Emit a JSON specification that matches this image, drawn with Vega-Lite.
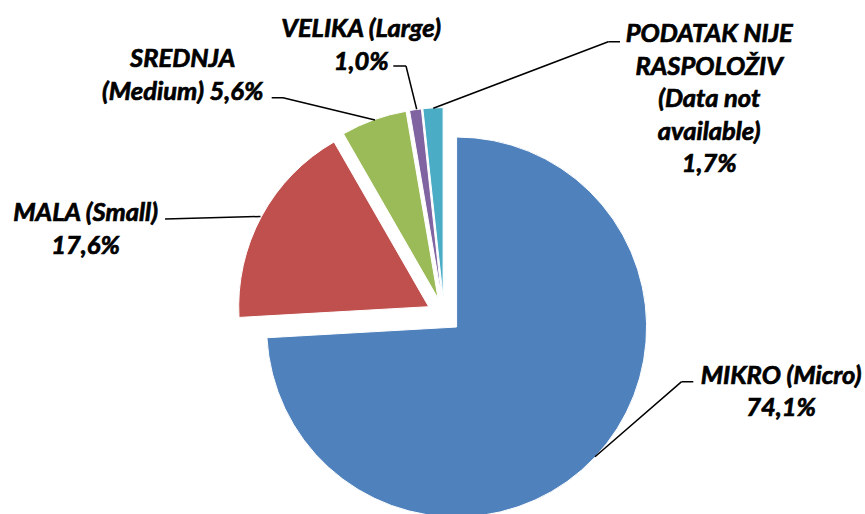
{
  "$schema": "https://vega.github.io/schema/vega-lite/v6.json",
  "width": 842,
  "height": 398,
  "autosize": "none",
  "padding": {"left": 23, "top": 116, "right": 0, "bottom": 0},
  "background": "white",
  "config": {"view": {"stroke": null}, "text": {"font": "Lato", "fontSize": 25.5, "fontStyle": "italic", "fontWeight": "bold", "lineHeight": 32.5, "lineBreak": "\n", "align": "center", "baseline": "middle", "color": "black", "stroke": "black", "strokeWidth": 0.7}},
  "data": {
    "values": [
      {"category": "MIKRO", "value": 74.1, "label": "MIKRO (Micro)\n74,1%"},
      {"category": "MALA", "value": 17.6, "label": "MALA (Small)\n17,6%"},
      {"category": "SREDNJA", "value": 5.6, "label": "SREDNJA\n(Medium) 5,6%"},
      {"category": "VELIKA", "value": 1.0, "label": "VELIKA (Large)\n1,0%"},
      {"category": "PODATAK", "value": 1.7, "label": "PODATAK NIJE\nRASPOLOŽIV\n(Data not\navailable)\n1,7%"}
    ]
  },
  "transform": [{"stack": "value", "groupby": [], "as": ["v0", "v1"]}],
  "encoding": {
    "theta": {"field": "v0", "type": "quantitative", "scale": {"domain": [0, 100]}, "stack": null}
  },
  "layer": [
    {
      "transform": [{"filter": "datum.category === 'MIKRO'"}],
      "mark": {"type": "arc", "radius": 190, "xOffset": 12.6, "yOffset": 12.0, "stroke": "white", "strokeWidth": 1},
      "encoding": {"theta2": {"field": "v1"}, "color": {"field": "category", "type": "nominal", "scale": {"domain": ["MIKRO", "MALA", "SREDNJA", "VELIKA", "PODATAK"], "range": ["#4F81BD", "#C0504D", "#9BBB59", "#8064A2", "#4BACC6"]}, "legend": null}}
    },
    {
      "transform": [{"filter": "datum.category === 'MALA'"}],
      "mark": {"type": "arc", "radius": 190, "xOffset": -15.3, "yOffset": -8.3, "stroke": "white", "strokeWidth": 1},
      "encoding": {"theta2": {"field": "v1"}, "color": {"field": "category", "type": "nominal", "legend": null}}
    },
    {
      "transform": [{"filter": "datum.category === 'SREDNJA'"}],
      "mark": {"type": "arc", "radius": 190, "xOffset": -5.9, "yOffset": -16.4, "stroke": "white", "strokeWidth": 1},
      "encoding": {"theta2": {"field": "v1"}, "color": {"field": "category", "type": "nominal", "legend": null}}
    },
    {
      "transform": [{"filter": "datum.category === 'VELIKA'"}],
      "mark": {"type": "arc", "radius": 190, "xOffset": -2.4, "yOffset": -17.2, "stroke": "white", "strokeWidth": 1},
      "encoding": {"theta2": {"field": "v1"}, "color": {"field": "category", "type": "nominal", "legend": null}}
    },
    {
      "transform": [{"filter": "datum.category === 'PODATAK'"}],
      "mark": {"type": "arc", "radius": 190, "xOffset": -0.9, "yOffset": -17.4, "stroke": "white", "strokeWidth": 1},
      "encoding": {"theta2": {"field": "v1"}, "color": {"field": "category", "type": "nominal", "legend": null}}
    },
    {
      "transform": [{"filter": "datum.category === 'MIKRO'"}],
      "mark": {"type": "arc", "radius": 114.6, "radius2": 0, "xOffset": 151, "yOffset": 141.7, "thetaOffset": 0.857, "theta2Offset": 0.857, "fillOpacity": 0, "stroke": "black", "strokeWidth": 1.5},
      "encoding": {"theta2": {"field": "v0"}}
    },
    {
      "transform": [{"filter": "datum.category === 'MIKRO'"}],
      "mark": {"type": "arc", "radius": 11.6, "radius2": 0, "xOffset": 237.7, "yOffset": 66.7, "thetaOffset": 1.5708, "theta2Offset": 1.5708, "fillOpacity": 0, "stroke": "black", "strokeWidth": 1.5},
      "encoding": {"theta2": {"field": "v0"}}
    },
    {
      "transform": [{"filter": "datum.category === 'MALA'"}],
      "mark": {"type": "arc", "radius": 95.5, "radius2": 0, "xOffset": -183.5, "yOffset": -98.5, "thetaOffset": 0.0302, "theta2Offset": 0.0302, "fillOpacity": 0, "stroke": "black", "strokeWidth": 1.5},
      "encoding": {"theta2": {"field": "v0"}}
    },
    {
      "transform": [{"filter": "datum.category === 'SREDNJA'"}],
      "mark": {"type": "arc", "radius": 94.7, "radius2": 0, "xOffset": -69, "yOffset": -195, "thetaOffset": -0.8115, "theta2Offset": -0.8115, "fillOpacity": 0, "stroke": "black", "strokeWidth": 1.5},
      "encoding": {"theta2": {"field": "v0"}}
    },
    {
      "transform": [{"filter": "datum.category === 'SREDNJA'"}],
      "mark": {"type": "arc", "radius": 11.3, "radius2": 0, "xOffset": -161, "yOffset": -217.3, "thetaOffset": -1.0493, "theta2Offset": -1.0493, "fillOpacity": 0, "stroke": "black", "strokeWidth": 1.5},
      "encoding": {"theta2": {"field": "v0"}}
    },
    {
      "transform": [{"filter": "datum.category === 'VELIKA'"}],
      "mark": {"type": "arc", "radius": 44.6, "radius2": 0, "xOffset": -27.3, "yOffset": -205.7, "thetaOffset": -0.0725, "theta2Offset": -0.0725, "fillOpacity": 0, "stroke": "black", "strokeWidth": 1.5},
      "encoding": {"theta2": {"field": "v0"}}
    },
    {
      "transform": [{"filter": "datum.category === 'VELIKA'"}],
      "mark": {"type": "arc", "radius": 12.7, "radius2": 0, "xOffset": -38, "yOffset": -249, "thetaOffset": -1.4011, "theta2Offset": -1.4011, "fillOpacity": 0, "stroke": "black", "strokeWidth": 1.5},
      "encoding": {"theta2": {"field": "v0"}}
    },
    {
      "transform": [{"filter": "datum.category === 'PODATAK'"}],
      "mark": {"type": "arc", "radius": 187.2, "radius2": 0, "xOffset": -10.7, "yOffset": -206.7, "thetaOffset": 1.314, "theta2Offset": 1.314, "fillOpacity": 0, "stroke": "black", "strokeWidth": 1.5},
      "encoding": {"theta2": {"field": "v0"}}
    },
    {
      "transform": [{"filter": "datum.category === 'PODATAK'"}],
      "mark": {"type": "arc", "radius": 11.7, "radius2": 0, "xOffset": 164.3, "yOffset": -273.3, "thetaOffset": -4.6055, "theta2Offset": -4.6055, "fillOpacity": 0, "stroke": "black", "strokeWidth": 1.5},
      "encoding": {"theta2": {"field": "v0"}}
    },
    {
      "transform": [{"filter": "datum.category === 'MIKRO'"}],
      "mark": {"type": "text", "radius": 342.5, "thetaOffset": 1.7496},
      "encoding": {"text": {"field": "label"}}
    },
    {
      "transform": [{"filter": "datum.category === 'MALA'"}],
      "mark": {"type": "text", "radius": 372.6, "thetaOffset": 0.3331},
      "encoding": {"text": {"field": "label"}}
    },
    {
      "transform": [{"filter": "datum.category === 'SREDNJA'"}],
      "mark": {"type": "text", "radius": 365.6, "thetaOffset": -0.2748},
      "encoding": {"text": {"field": "label"}}
    },
    {
      "transform": [{"filter": "datum.category === 'VELIKA'"}],
      "mark": {"type": "text", "radius": 297.3, "thetaOffset": -0.1126},
      "encoding": {"text": {"field": "label"}}
    },
    {
      "transform": [{"filter": "datum.category === 'PODATAK'"}],
      "mark": {"type": "text", "radius": 386.3, "thetaOffset": -5.4197},
      "encoding": {"text": {"field": "label"}}
    }
  ]
}
